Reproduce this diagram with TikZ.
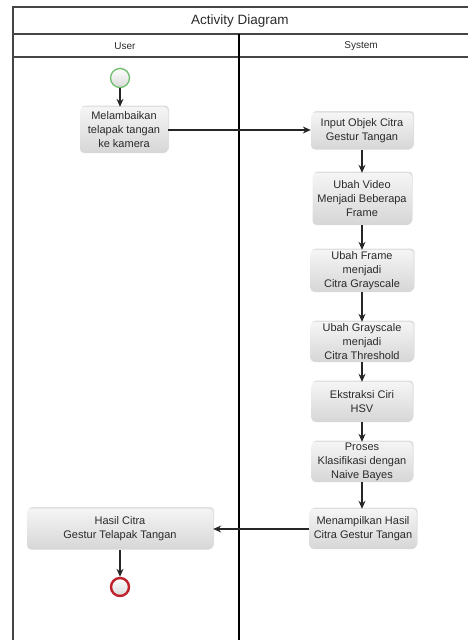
\documentclass[tikz,border=0pt]{standalone}
\usepackage{fontspec}
\setmainfont{Liberation Sans}
\usetikzlibrary{arrows.meta,shadows}
\definecolor{txt}{HTML}{2A2A2A}
\definecolor{frame}{HTML}{454545}
\definecolor{startgreen}{HTML}{6DBE6D}
\definecolor{endred}{HTML}{C0202A}
\tikzset{
  act/.style={rounded corners=4pt, draw=none, top color=white!96!black, bottom color=black!16,
    drop shadow={opacity=0.25, shadow xshift=1.2pt, shadow yshift=1.5pt},
    align=center, text=txt, font=\fontsize{11}{14}\selectfont, inner sep=0pt},
  flow/.style={draw=black!85, line width=1.2pt, -{Stealth[length=8pt,width=7pt]}},
  lane/.style={draw=frame, line width=1.2pt},
  startnode/.style={circle, minimum size=19pt, inner sep=0pt, draw=startgreen, line width=1.3pt,
    top color=white, bottom color=black!15, drop shadow={opacity=0.2, shadow xshift=0.8pt, shadow yshift=1pt}},
  endnode/.style={circle, minimum size=18pt, inner sep=0pt, draw=endred, line width=2.4pt,
    top color=white, bottom color=black!15, drop shadow={opacity=0.2, shadow xshift=0.8pt, shadow yshift=1pt}},
  hdr/.style={text=txt, inner sep=0pt}
}
\begin{document}
\begin{tikzpicture}[x=1pt,y=-1pt]
\useasboundingbox (0,0) rectangle (468,640);
% frame
\draw[lane] (13,640) -- (13,7) -- (468,7);
\draw[lane] (13,34) -- (468,34);
\draw[lane] (13,57) -- (468,57);
\draw[draw=black, line width=1.2pt] (239,34) -- (239,640);
\node[hdr, font=\fontsize{13.5}{16}\selectfont] (title) at (240,21) {Activity Diagram};
\node[hdr, font=\fontsize{10}{12}\selectfont] (user) at (125,46) {User};
\node[hdr, font=\fontsize{10}{12}\selectfont] (system) at (361,46) {System};
% nodes
\node[startnode] (start) at (120,78) {};
\node[act, minimum width=88pt, minimum height=46pt] (b1) at (124,130) {Melambaikan\\telapak tangan\\ke kamera};
\node[act, minimum width=102pt, minimum height=37pt] (b2) at (362,131) {Input Objek Citra\\Gestur Tangan};
\node[act, minimum width=99pt, minimum height=52pt] (b3) at (362,199) {Ubah Video\\Menjadi Beberapa\\Frame};
\node[act, minimum width=103pt, minimum height=42pt] (b4) at (362,271) {Ubah Frame\\menjadi\\Citra Grayscale};
\node[act, minimum width=103pt, minimum height=40pt] (b5) at (362,342) {Ubah Grayscale\\menjadi\\Citra Threshold};
\node[act, minimum width=101pt, minimum height=40pt] (b6) at (362,402) {Ekstraksi Ciri\\HSV};
\node[act, minimum width=101pt, minimum height=40pt] (b7) at (362,462) {Proses\\Klasifikasi dengan\\Naive Bayes};
\node[act, minimum width=107pt, minimum height=40pt] (b8) at (363,529) {Menampilkan Hasil\\Citra Gestur Tangan};
\node[act, minimum width=186pt, minimum height=41pt] (b9) at (120,529) {Hasil Citra\\Gestur Telapak Tangan};
\node[endnode] (end) at (120,587) {};
% connectors
\draw[flow] (start) -- (start |- b1.north);
\draw[flow] (b1.east) -- (b2.west |- b1.east);
\draw[flow] (b2) -- (b3);
\draw[flow] (b3) -- (b4);
\draw[flow] (b4) -- (b5);
\draw[flow] (b5) -- (b6);
\draw[flow] (b6) -- (b7);
\draw[flow] (b7.south) -- (b7.south |- b8.north);
\draw[flow] (b8.west) -- (b9.east |- b8.west);
\draw[flow] (b9) -- (end);
\end{tikzpicture}
\end{document}
